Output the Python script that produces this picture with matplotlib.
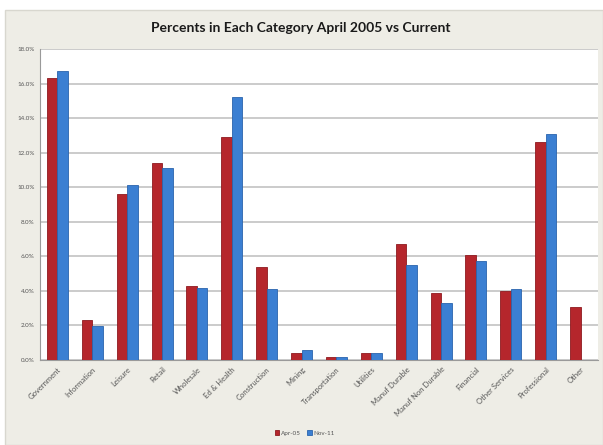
import numpy as np
import matplotlib
matplotlib.use('Agg')
from matplotlib import pyplot as plt
from matplotlib.patches import Rectangle
from matplotlib.ticker import FuncFormatter

categories = ["Government", "Information", "Leisure", "Retail", "Wholesale",
              "Ed & Health", "Construction", "Mining", "Transportation",
              "Utilities", "Manuf Durable", "Manuf Non Durable", "Financial",
              "Other Services", "Professional", "Other"]
apr_05 = [16.3, 2.3, 9.6, 11.4, 4.3, 12.9, 5.4, 0.4, 0.15, 0.4,
          6.7, 3.9, 6.05, 4.0, 12.6, 3.05]
nov_11 = [16.7, 1.95, 10.1, 11.1, 4.15, 15.2, 4.1, 0.55, 0.15, 0.4,
          5.5, 3.3, 5.75, 4.1, 13.1, 0.0]

plt.rcParams["font.family"] = ["Lato", "DejaVu Sans"]

fig = plt.figure(figsize=(6.03, 4.45), dpi=100)
fig.patch.set_facecolor("white")
# chart frame, kept behind the axes
fig.patches.append(Rectangle((5 / 603, 0), 598 / 603, 435 / 445,
                             transform=fig.transFigure, facecolor="#eeede6",
                             edgecolor="#d8d7cf", linewidth=1, zorder=-5))

ax = fig.add_axes([40 / 603, 1 - 360 / 445, 558 / 603, 311 / 445])
ax.set_facecolor("white")

x = np.arange(len(categories))
w = 0.3
ax.bar(x - w / 2, apr_05, w, color="#b5262c", edgecolor="#8e1a1f",
       linewidth=0.6, label="Apr-05", zorder=3)
ax.bar(x + w / 2, nov_11, w, color="#3b7fd2", edgecolor="#2a64ad",
       linewidth=0.6, label="Nov-11", zorder=3)

ax.set_xlim(-0.5, len(categories) - 0.5)
ax.set_ylim(0, 18)
ax.set_yticks(np.arange(0, 18.1, 2))
ax.yaxis.set_major_formatter(FuncFormatter(lambda v, p: f"{v:.1f}%"))
ax.grid(axis="y", color="#bdbdbd", linewidth=1.1, zorder=0)
ax.set_axisbelow(True)

for s in ["top", "right"]:
    ax.spines[s].set_visible(False)
for s in ["left", "bottom"]:
    ax.spines[s].set_color("#9a9a9a")

ax.tick_params(axis="y", labelsize=4.5, colors="#555555", length=0, pad=4)
ax.tick_params(axis="x", length=0, pad=4)
ax.set_xticks(x)
ax.set_xticklabels(categories, rotation=45, ha="right", rotation_mode="anchor",
                   fontsize=5.5, color="#555555")

fig.text(301 / 603, 1 - 28 / 445, "Percents in Each Category April 2005 vs Current",
         ha="center", va="center", fontsize=10, fontweight="bold", color="#1a1a1a")

fig.legend(loc="center", bbox_to_anchor=(305 / 603, 1 - 433 / 445), ncol=2,
           fontsize=4.5, frameon=False, handlelength=0.7, handleheight=0.7,
           columnspacing=1.0, handletextpad=0.3, labelcolor="#555555")

plt.savefig("out.png", dpi=100, facecolor=fig.get_facecolor())
